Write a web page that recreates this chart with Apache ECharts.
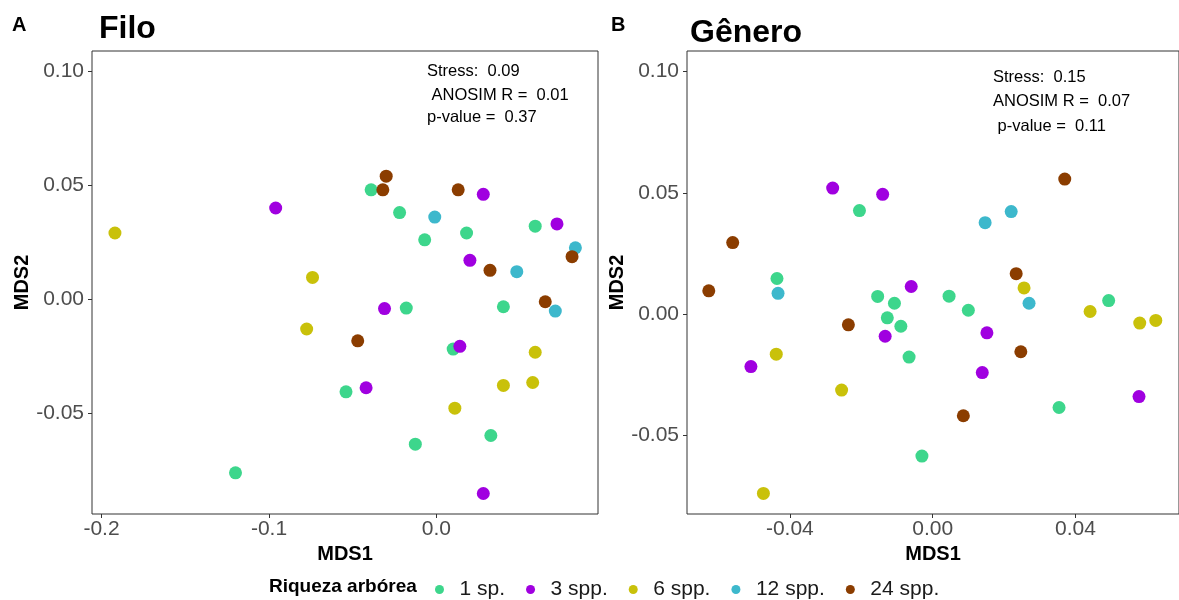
<!DOCTYPE html>
<html>
<head>
<meta charset="utf-8">
<script src="https://cdn.jsdelivr.net/npm/echarts@6/dist/echarts.min.js"></script>
<style>html,body{margin:0;padding:0;background:#fff;}#c{width:1179px;height:600px;}</style>
</head>
<body>
<div id="c"></div>
<script>
// ---- Data ----
const groups = ['1 sp.', '3 spp.', '6 spp.', '12 spp.', '24 spp.'];
const colors = ['#3DD68C', '#A000E0', '#C9C10A', '#3DB8CC', '#8B3D00'];

// Panel A: Filo  [MDS1, MDS2]
const filo_1sp = [[-0.039,0.048],[-0.022,0.038],[-0.007,0.026],[0.018,0.029],[0.059,0.032],[-0.018,-0.004],[0.040,-0.0034],[0.010,-0.022],[-0.054,-0.0408],[0.0325,-0.060],[-0.0126,-0.0638],[-0.120,-0.0764]];
const filo_3spp = [[-0.096,0.040],[0.028,0.046],[0.020,0.017],[0.072,0.033],[-0.031,-0.0042],[0.014,-0.0208],[-0.042,-0.039],[0.028,-0.0855]];
const filo_6spp = [[-0.192,0.029],[-0.074,0.0095],[-0.0775,-0.0132],[0.059,-0.0234],[0.040,-0.038],[0.0575,-0.0367],[0.011,-0.048]];
const filo_12spp = [[-0.001,0.036],[0.048,0.012],[0.083,0.0225],[0.071,-0.0053]];
const filo_24spp = [[-0.032,0.048],[-0.030,0.054],[0.013,0.048],[0.032,0.0126],[0.081,0.0186],[0.065,-0.0012],[-0.047,-0.0184]];

// Panel B: Gênero
const gen_1sp = [[-0.0205,0.0427],[-0.0436,0.0147],[-0.0154,0.0073],[-0.0107,0.0045],[0.0046,0.0074],[0.010,0.0016],[0.0493,0.0056],[-0.0127,-0.0015],[-0.0089,-0.005],[-0.0066,-0.0177],[0.0354,-0.0385],[-0.003,-0.0585]];
const gen_3spp = [[-0.028,0.052],[-0.014,0.0494],[-0.006,0.0114],[-0.0133,-0.0091],[0.0152,-0.0077],[-0.0509,-0.0216],[0.0139,-0.0241],[0.0578,-0.034]];
const gen_6spp = [[0.0256,0.0108],[0.0441,0.0011],[0.058,-0.0037],[0.0625,-0.0026],[-0.0438,-0.0165],[-0.0255,-0.0313],[-0.0474,-0.0739]];
const gen_12spp = [[0.0147,0.0377],[0.022,0.0423],[-0.0433,0.0086],[0.027,0.0045]];
const gen_24spp = [[0.037,0.0557],[-0.056,0.0295],[0.0234,0.0167],[-0.0627,0.0096],[-0.0236,-0.0044],[0.0247,-0.0155],[0.0086,-0.0419]];

// Tick labels
const filoXTicks = [-0.2, -0.1, 0.0];
const filoYTicks = [-0.05, 0.00, 0.05, 0.10];
const genXTicks = [-0.04, 0.00, 0.04];
const genYTicks = [-0.05, 0.00, 0.05, 0.10];

// Stats text
const filoStats = ['Stress:  0.09', ' ANOSIM R =  0.01', 'p-value =  0.37'];
const genStats = ['Stress:  0.15', 'ANOSIM R =  0.07', ' p-value =  0.11'];

// ---- Chart ----
const FONT = '"Liberation Sans", Arial, Helvetica, sans-serif';
const filoData = [filo_1sp, filo_3spp, filo_6spp, filo_12spp, filo_24spp];
const genData = [gen_1sp, gen_3spp, gen_6spp, gen_12spp, gen_24spp];

function xAxisCfg(gridIndex, min, max, ticks, dec) {
  return {
    type: 'value', gridIndex, min, max,
    name: 'MDS1', nameLocation: 'middle', nameGap: 24,
    nameTextStyle: { fontFamily: FONT, fontSize: 20, fontWeight: 'bold', color: '#000' },
    axisLine: { show: false, onZero: false },
    splitLine: { show: false },
    axisTick: { show: true, length: 4, customValues: ticks, lineStyle: { color: '#333', width: 1 } },
    axisLabel: { show: true, customValues: ticks, margin: 5, fontFamily: FONT, fontSize: 21, color: '#4d4d4d',
      formatter: v => v.toFixed(dec) }
  };
}
function yAxisCfg(gridIndex, min, max, ticks) {
  return {
    type: 'value', gridIndex, min, max,
    name: 'MDS2', nameLocation: 'middle', nameGap: 60, nameRotate: 90,
    nameTextStyle: { fontFamily: FONT, fontSize: 20, fontWeight: 'bold', color: '#000' },
    axisLine: { show: false, onZero: false },
    splitLine: { show: false },
    axisTick: { show: true, length: 4, customValues: ticks, lineStyle: { color: '#333', width: 1 } },
    axisLabel: { show: true, customValues: ticks, margin: 8, fontFamily: FONT, fontSize: 21, color: '#4d4d4d',
      formatter: v => v.toFixed(2) }
  };
}

const series = [];
groups.forEach((g, i) => {
  series.push({ name: g, type: 'scatter', xAxisIndex: 0, yAxisIndex: 0, data: filoData[i],
    symbolSize: 13, itemStyle: { color: colors[i], opacity: 1 } });
  series.push({ name: g, type: 'scatter', xAxisIndex: 1, yAxisIndex: 1, data: genData[i],
    symbolSize: 13, itemStyle: { color: colors[i], opacity: 1 } });
});

function txt(x, y, text, size, weight, align) {
  return { type: 'text', x, y, style: { text, fontFamily: FONT, fontSize: size, fontWeight: weight || 'normal',
    fill: '#000', align: align || 'left', verticalAlign: 'middle' } };
}

const graphics = [
  txt(12, 25, 'A', 20, 'bold'),
  txt(611, 25, 'B', 20, 'bold'),
  txt(99, 29, 'Filo', 32, 'bold'),
  txt(690, 33, 'Gênero', 32, 'bold'),
  txt(427, 71, filoStats[0], 16.5),
  txt(427, 95, filoStats[1], 16.5),
  txt(427, 117, filoStats[2], 16.5),
  txt(993, 77, genStats[0], 16.5),
  txt(993, 101, genStats[1], 16.5),
  txt(993, 126, genStats[2], 16.5),
  txt(269, 587, 'Riqueza arbórea', 19, 'bold')
];

const chart = echarts.init(document.getElementById('c'), null, { renderer: 'canvas' });
chart.setOption({
  animation: false,
  backgroundColor: '#fff',
  grid: [
    { left: 92, top: 51, width: 506, height: 463, show: true, borderColor: '#333', borderWidth: 1, backgroundColor: 'transparent' },
    { left: 687, top: 51, width: 506, height: 463, show: true, borderColor: '#333', borderWidth: 1, backgroundColor: 'transparent' }
  ],
  xAxis: [
    xAxisCfg(0, -0.2057, 0.0965, filoXTicks, 1),
    xAxisCfg(1, -0.0688, 0.0690, genXTicks, 2)
  ],
  yAxis: [
    yAxisCfg(0, -0.0945, 0.109, filoYTicks),
    yAxisCfg(1, -0.0824, 0.1085, genYTicks)
  ],
  legend: {
    data: groups, left: 430, top: 574, orient: 'horizontal',
    icon: 'circle', itemWidth: 30, itemHeight: 9, itemGap: 21,
    textStyle: { fontFamily: FONT, fontSize: 21, color: '#1a1a1a' }
  },
  graphic: graphics,
  series
});
</script>
</body>
</html>
